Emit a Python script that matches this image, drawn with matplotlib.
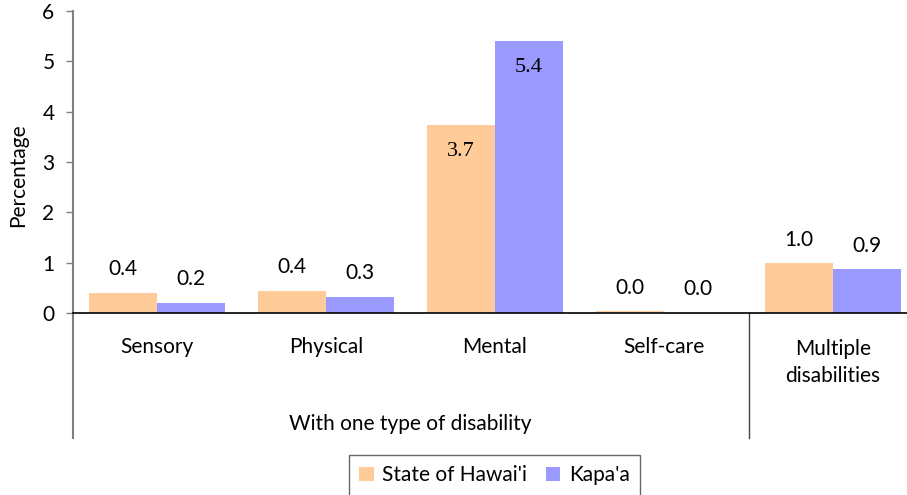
import matplotlib
matplotlib.use("Agg")
import matplotlib.pyplot as plt
import matplotlib.transforms as mtransforms
import numpy as np

categories = ["Sensory", "Physical", "Mental", "Self-care", "Multiple\ndisabilities"]
group_label = "With one type of disability"
series_names = ["State of Hawai'i", "Kapa'a"]
hawaii = [0.40, 0.44, 3.74, 0.03, 0.99]
kapaa = [0.20, 0.32, 5.41, 0.005, 0.87]
yticks = [0, 1, 2, 3, 4, 5, 6]

FONT = "Lato"
plt.rcParams['font.family'] = [FONT, 'DejaVu Sans']
FS = 15

fig = plt.figure(figsize=(9.07, 4.95), dpi=100)
W, H = 907, 495
left, right, top, bottom = 72.5, 917.5, 11, 313
ax = fig.add_axes([left / W, 1 - bottom / H, (right - left) / W, (bottom - top) / H])

x = np.arange(len(categories))
bw = 0.4
c1, c2 = "#FFCC99", "#9999FF"
b1 = ax.bar(x - bw / 2, hawaii, bw, color=c1, label=series_names[0], zorder=2)
b2 = ax.bar(x + bw / 2, kapaa, bw, color=c2, label=series_names[1], zorder=2)

ax.set_xlim(-0.5, 4.5)
ax.set_ylim(0, 6)
ax.set_yticks(yticks)
ax.set_yticklabels([str(t) for t in yticks], fontsize=FS)
ax.tick_params(axis='y', length=5, width=1, color="#808080", pad=8)
ax.set_xticks([])
for s in ["top", "right", "left"]:
    ax.spines[s].set_visible(False)
ax.spines["bottom"].set_color("black")
ax.spines["bottom"].set_linewidth(1.2)
ax.spines["bottom"].set_zorder(3)

# axis lines extending below
below = -(438 - 313) / (bottom - top)
trans = mtransforms.blended_transform_factory(ax.transData, ax.transAxes)
ax.plot([-0.5, -0.5], [1, below], transform=trans, color="#808080", lw=1.5, clip_on=False)
ax.plot([3.5, 3.5], [0, below], transform=trans, color="#404040", lw=1, clip_on=False)

# value labels
for bars, vals in ((b1, hawaii), (b2, kapaa)):
    for rect, v in zip(bars, vals):
        cx = rect.get_x() + rect.get_width() / 2
        if v > 3:
            ax.annotate(f"{v:.1f}", (cx, v), xytext=(0, -19.5), textcoords="offset points",
                        ha="center", va="center", fontsize=FS + 1, family="Liberation Serif")
        else:
            ax.annotate(f"{v:.1f}", (cx, v), xytext=(0, 17), textcoords="offset points",
                        ha="center", va="center", fontsize=FS)

# category labels
for i, c in enumerate(categories):
    if "\n" in c:
        ax.text(i, -(362.5 - 313) / (bottom - top), c, transform=trans, ha="center", va="center",
                fontsize=FS, linespacing=1.45)
    else:
        ax.text(i, -(347 - 313) / (bottom - top), c, transform=trans, ha="center", va="center",
                fontsize=FS)
ax.text(1.5, -(424 - 313) / (bottom - top), group_label, transform=trans, ha="center", va="center",
        fontsize=FS)

fig.text(18 / W, 1 - 175 / H, "Percentage", rotation=90, ha="center", va="center", fontsize=FS)

leg = fig.legend(handles=[b1, b2], labels=series_names, loc="upper center",
                 bbox_to_anchor=(494.5 / W, 1 - 455 / H), ncol=2, fontsize=FS,
                 frameon=True, fancybox=False, edgecolor="#404040", handlelength=0.7,
                 handleheight=0.7, handletextpad=0.4, columnspacing=0.9, borderpad=0.5,
                 borderaxespad=0)
leg.get_frame().set_linewidth(1)

fig.savefig("out.png", dpi=100)
